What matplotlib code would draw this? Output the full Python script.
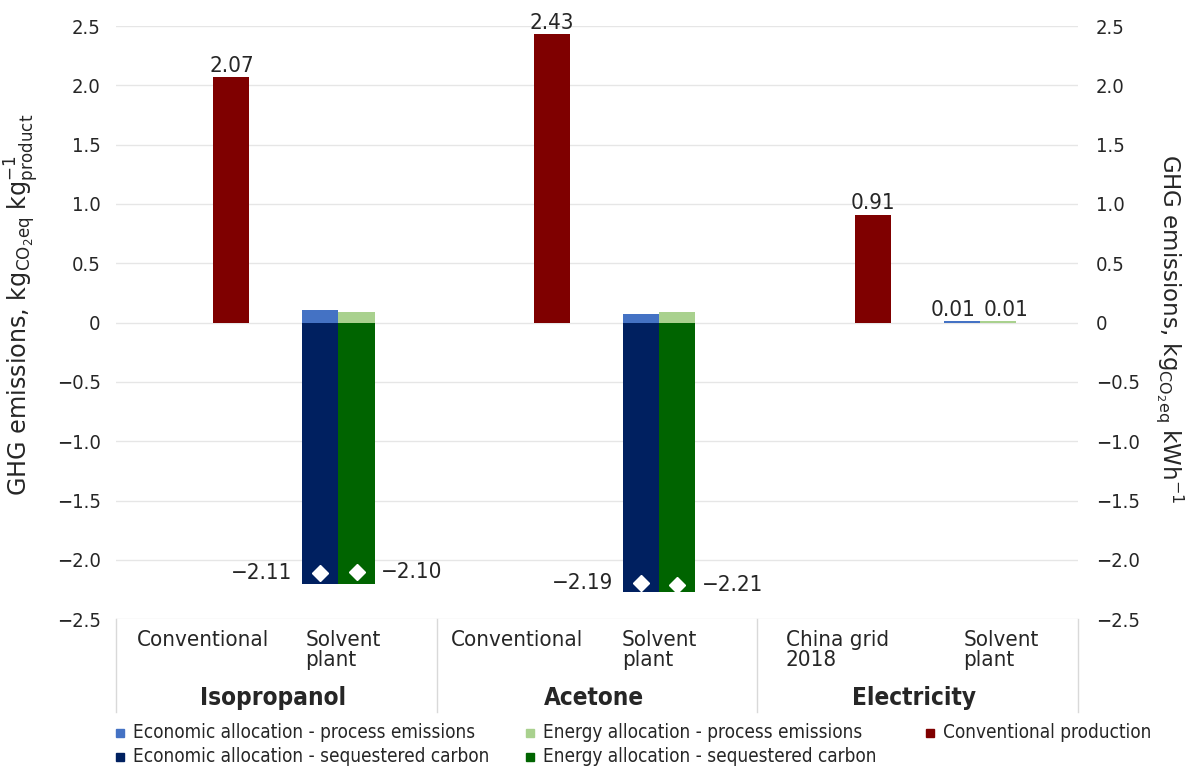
import matplotlib.pyplot as plt
import matplotlib.transforms as mtransforms
from matplotlib.lines import Line2D
import numpy as np

plt.rcParams['font.family'] = ['DejaVu Sans Condensed', 'DejaVu Sans']
plt.rcParams['font.stretch'] = 'condensed'
plt.rcParams['mathtext.default'] = 'regular'

# categories along the x axis (two per product)
categories = ['Conventional', 'Solvent\nplant', 'Conventional', 'Solvent\nplant',
              'China grid\n2018', 'Solvent\nplant']
groups = ['Isopropanol', 'Acetone', 'Electricity']

# conventional production (isopropanol, acetone, China grid 2018)
conventional = [2.07, 2.43, 0.91]

# solvent plant, economic allocation
econ_process = [0.11, 0.07, 0.01]
econ_seq = [-2.20, -2.27, 0.0]
econ_net = [-2.11, -2.19]

# solvent plant, energy allocation
energy_process = [0.09, 0.09, 0.01]
energy_seq = [-2.20, -2.27, 0.0]
energy_net = [-2.10, -2.21]

yticks = [-2.5, -2.0, -1.5, -1.0, -0.5, 0, 0.5, 1.0, 1.5, 2.0, 2.5]

c_red = '#7f0000'
c_econ_p = '#4472c4'
c_econ_s = '#002060'
c_en_p = '#a9d18e'
c_en_s = '#006400'
txt = '#262626'


def fmt(v):
    if v == 0:
        return '0'
    return ('%.1f' % v).replace('-', '\u2212')


def fmt2(v):
    return ('%.2f' % v).replace('-', '\u2212')


fig = plt.figure(figsize=(11.88, 7.66), dpi=100)
ax = fig.add_axes([116 / 1188, 1 - 619.3 / 766, 962 / 1188, 593.3 / 766])

w = 0.225
conv_x = np.array([0, 2, 4]) + 0.22
solv_x = np.array([1, 3, 5])
bx = solv_x - w
gx = solv_x + 0.0

ax.bar(conv_x, conventional, w, color=c_red, zorder=3)
ax.bar(bx, econ_process, w, color=c_econ_p, zorder=3)
ax.bar(bx, econ_seq, w, color=c_econ_s, zorder=3)
ax.bar(gx, energy_process, w, color=c_en_p, zorder=3)
ax.bar(gx, energy_seq, w, color=c_en_s, zorder=3)

# net values as white diamonds
ax.plot(bx[:2], econ_net, 'D', color='white', ms=8, zorder=4, ls='none')
ax.plot(gx[:2], energy_net, 'D', color='white', ms=8, zorder=4, ls='none')

fs = 14.5
dfs = 16
for x, v in zip(conv_x, conventional):
    ax.annotate(fmt2(v), (x, v), xytext=(0, 1), textcoords='offset points',
                ha='center', va='bottom', fontsize=dfs, color=txt)
for x, v in zip(bx[:2], econ_net):
    ax.annotate(fmt2(v), (x - w / 2, v), xytext=(-7, 0),
                textcoords='offset points', ha='right', va='center', fontsize=dfs, color=txt)
for x, v in zip(gx[:2], energy_net):
    ax.annotate(fmt2(v), (x + w / 2, v), xytext=(4.5, 0),
                textcoords='offset points', ha='left', va='center', fontsize=dfs, color=txt)
ax.annotate(fmt2(econ_process[2]), (bx[2], econ_process[2]), xytext=(-6, 1),
            textcoords='offset points', ha='center', va='bottom', fontsize=dfs, color=txt)
ax.annotate(fmt2(energy_process[2]), (gx[2], energy_process[2]), xytext=(6, 1),
            textcoords='offset points', ha='center', va='bottom', fontsize=dfs, color=txt)

ax.set_xlim(-0.5, 5.5)
ax.set_ylim(-2.5, 2.5)
ax.set_yticks(yticks)
ax.set_yticklabels([fmt(v) for v in yticks])
ax.set_xticks([])
ax.tick_params(axis='y', length=0, pad=11, labelsize=fs, labelcolor=txt)
ax.yaxis.grid(True, color='#e6e6e6', lw=1, zorder=0)
ax.set_axisbelow(True)
for s in ax.spines.values():
    s.set_visible(False)
ax.set_ylabel(r'GHG emissions, $kg_{CO_2eq}\ kg^{-1}_{product}$', fontsize=17.2,
              color=txt, family='DejaVu Sans', fontstretch='normal', va='center')
ax.yaxis.set_label_coords(-0.0985, 0.53)

ax2 = ax.twinx()
ax2.set_ylim(-2.5, 2.5)
ax2.set_yticks(yticks)
ax2.set_yticklabels([fmt(v) for v in yticks])
ax2.tick_params(axis='y', length=0, pad=13, labelsize=fs, labelcolor=txt)
for s in ax2.spines.values():
    s.set_visible(False)
ax2.set_ylabel(r'GHG emissions, $kg_{CO_2eq}\ kWh^{-1}$', fontsize=16.5, color=txt,
               rotation=270, family='DejaVu Sans', fontstretch='normal', va='center')
ax2.yaxis.set_label_coords(1.0955, 0.49)

# multi-level category axis below the plot
trans = mtransforms.blended_transform_factory(ax.transData, ax.transAxes)
for x in [-0.5, 1.5, 3.5, 5.5]:
    ax.plot([x, x], [0, -93 / 593.3], transform=trans, color='#d9d9d9', lw=1,
            clip_on=False)
label_dx = [0.04, -0.085, 0.0, -0.11, 0.0, 0.02]
for i, lab in enumerate(categories):
    ax.text(i + label_dx[i], -11 / 593.3, lab, transform=trans, ha='center', va='top',
            multialignment='left', fontsize=16, color=txt, linespacing=1.0)
for i, g in enumerate(groups):
    ax.text(2 * i + 0.5 - 0.02, -79 / 593.3, g, transform=trans, ha='center',
            va='center', fontsize=17.5, fontweight='bold', color=txt)

# legend
leg_labels = ['Economic allocation - process emissions',
              'Economic allocation - sequestered carbon',
              'Energy allocation - process emissions',
              'Energy allocation - sequestered carbon',
              'Conventional production']
leg_colors = [c_econ_p, c_econ_s, c_en_p, c_en_s, c_red]
leg_pos = [(120, 733), (120, 757), (530, 733), (530, 757), (930, 733)]
for lab, col, (px, py) in zip(leg_labels, leg_colors, leg_pos):
    fig.add_artist(Line2D([px / 1188], [1 - py / 766], marker='s', ms=5.5,
                          color=col, ls='none', transform=fig.transFigure))
    fig.text((px + 13) / 1188, 1 - py / 766, lab, ha='left', va='center',
             fontsize=13.6, color=txt)

fig.savefig('out.png', dpi=100)
